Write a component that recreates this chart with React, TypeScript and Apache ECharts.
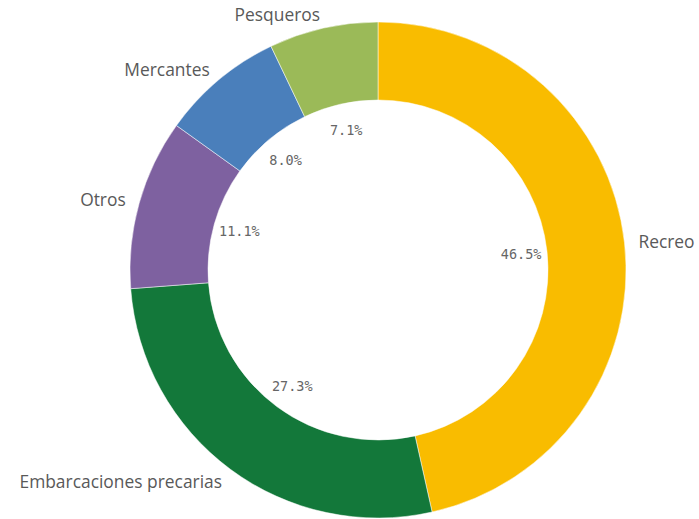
import React, { useEffect, useRef } from "react";
import * as echarts from "echarts";

const categories = ["Recreo", "Embarcaciones precarias", "Otros", "Mercantes", "Pesqueros"];
const shares = [46.5, 27.3, 11.1, 8.0, 7.1];
const colors = ["#F9BC00", "#13783A", "#7E61A0", "#4A7FBB", "#9BBA58"];

export default function App() {
  const ref = useRef<HTMLDivElement>(null);
  useEffect(() => {
    if (!ref.current) return;
    const chart = echarts.init(ref.current, null, { renderer: "svg" });
    const data = categories.map((name, i) => ({
      name,
      value: shares[i],
      itemStyle: { color: colors[i] },
    }));
    chart.setOption({
      animation: false,
      series: [
        {
          type: "pie",
          center: [378, 270],
          radius: [170, 248],
          startAngle: 90,
          clockwise: true,
          avoidLabelOverlap: false,
          itemStyle: { borderColor: "#ffffff", borderWidth: 0.5 },
          label: {
            show: true,
            position: "outside",
            formatter: "{b}",
            color: "#595959",
            fontFamily: "Open Sans",
            fontSize: 17.4,
            distanceToLabelLine: 0,
            alignTo: "none",
          },
          labelLine: { show: false, length: 14, length2: 0 },
          emphasis: { disabled: true },
          data,
        },
        {
          type: "pie",
          center: [378, 270],
          radius: [131, 151],
          startAngle: 90,
          clockwise: true,
          silent: true,
          avoidLabelOverlap: false,
          itemStyle: { color: "rgba(0,0,0,0)" },
          label: {
            show: true,
            position: "inside",
            formatter: (p: any) => Number(p.value).toFixed(1) + "%",
            color: "#666666",
            fontFamily: "DejaVu Sans Mono",
            fontSize: 13.5,
          },
          labelLine: { show: false },
          emphasis: { disabled: true },
          data: categories.map((name, i) => ({ name, value: shares[i] })),
        },
      ],
    });
    return () => chart.dispose();
  }, []);
  return (
    <div
      ref={ref}
      style={{ position: "fixed", left: 0, top: 0, width: 699, height: 519, background: "#fff" }}
    />
  );
}
